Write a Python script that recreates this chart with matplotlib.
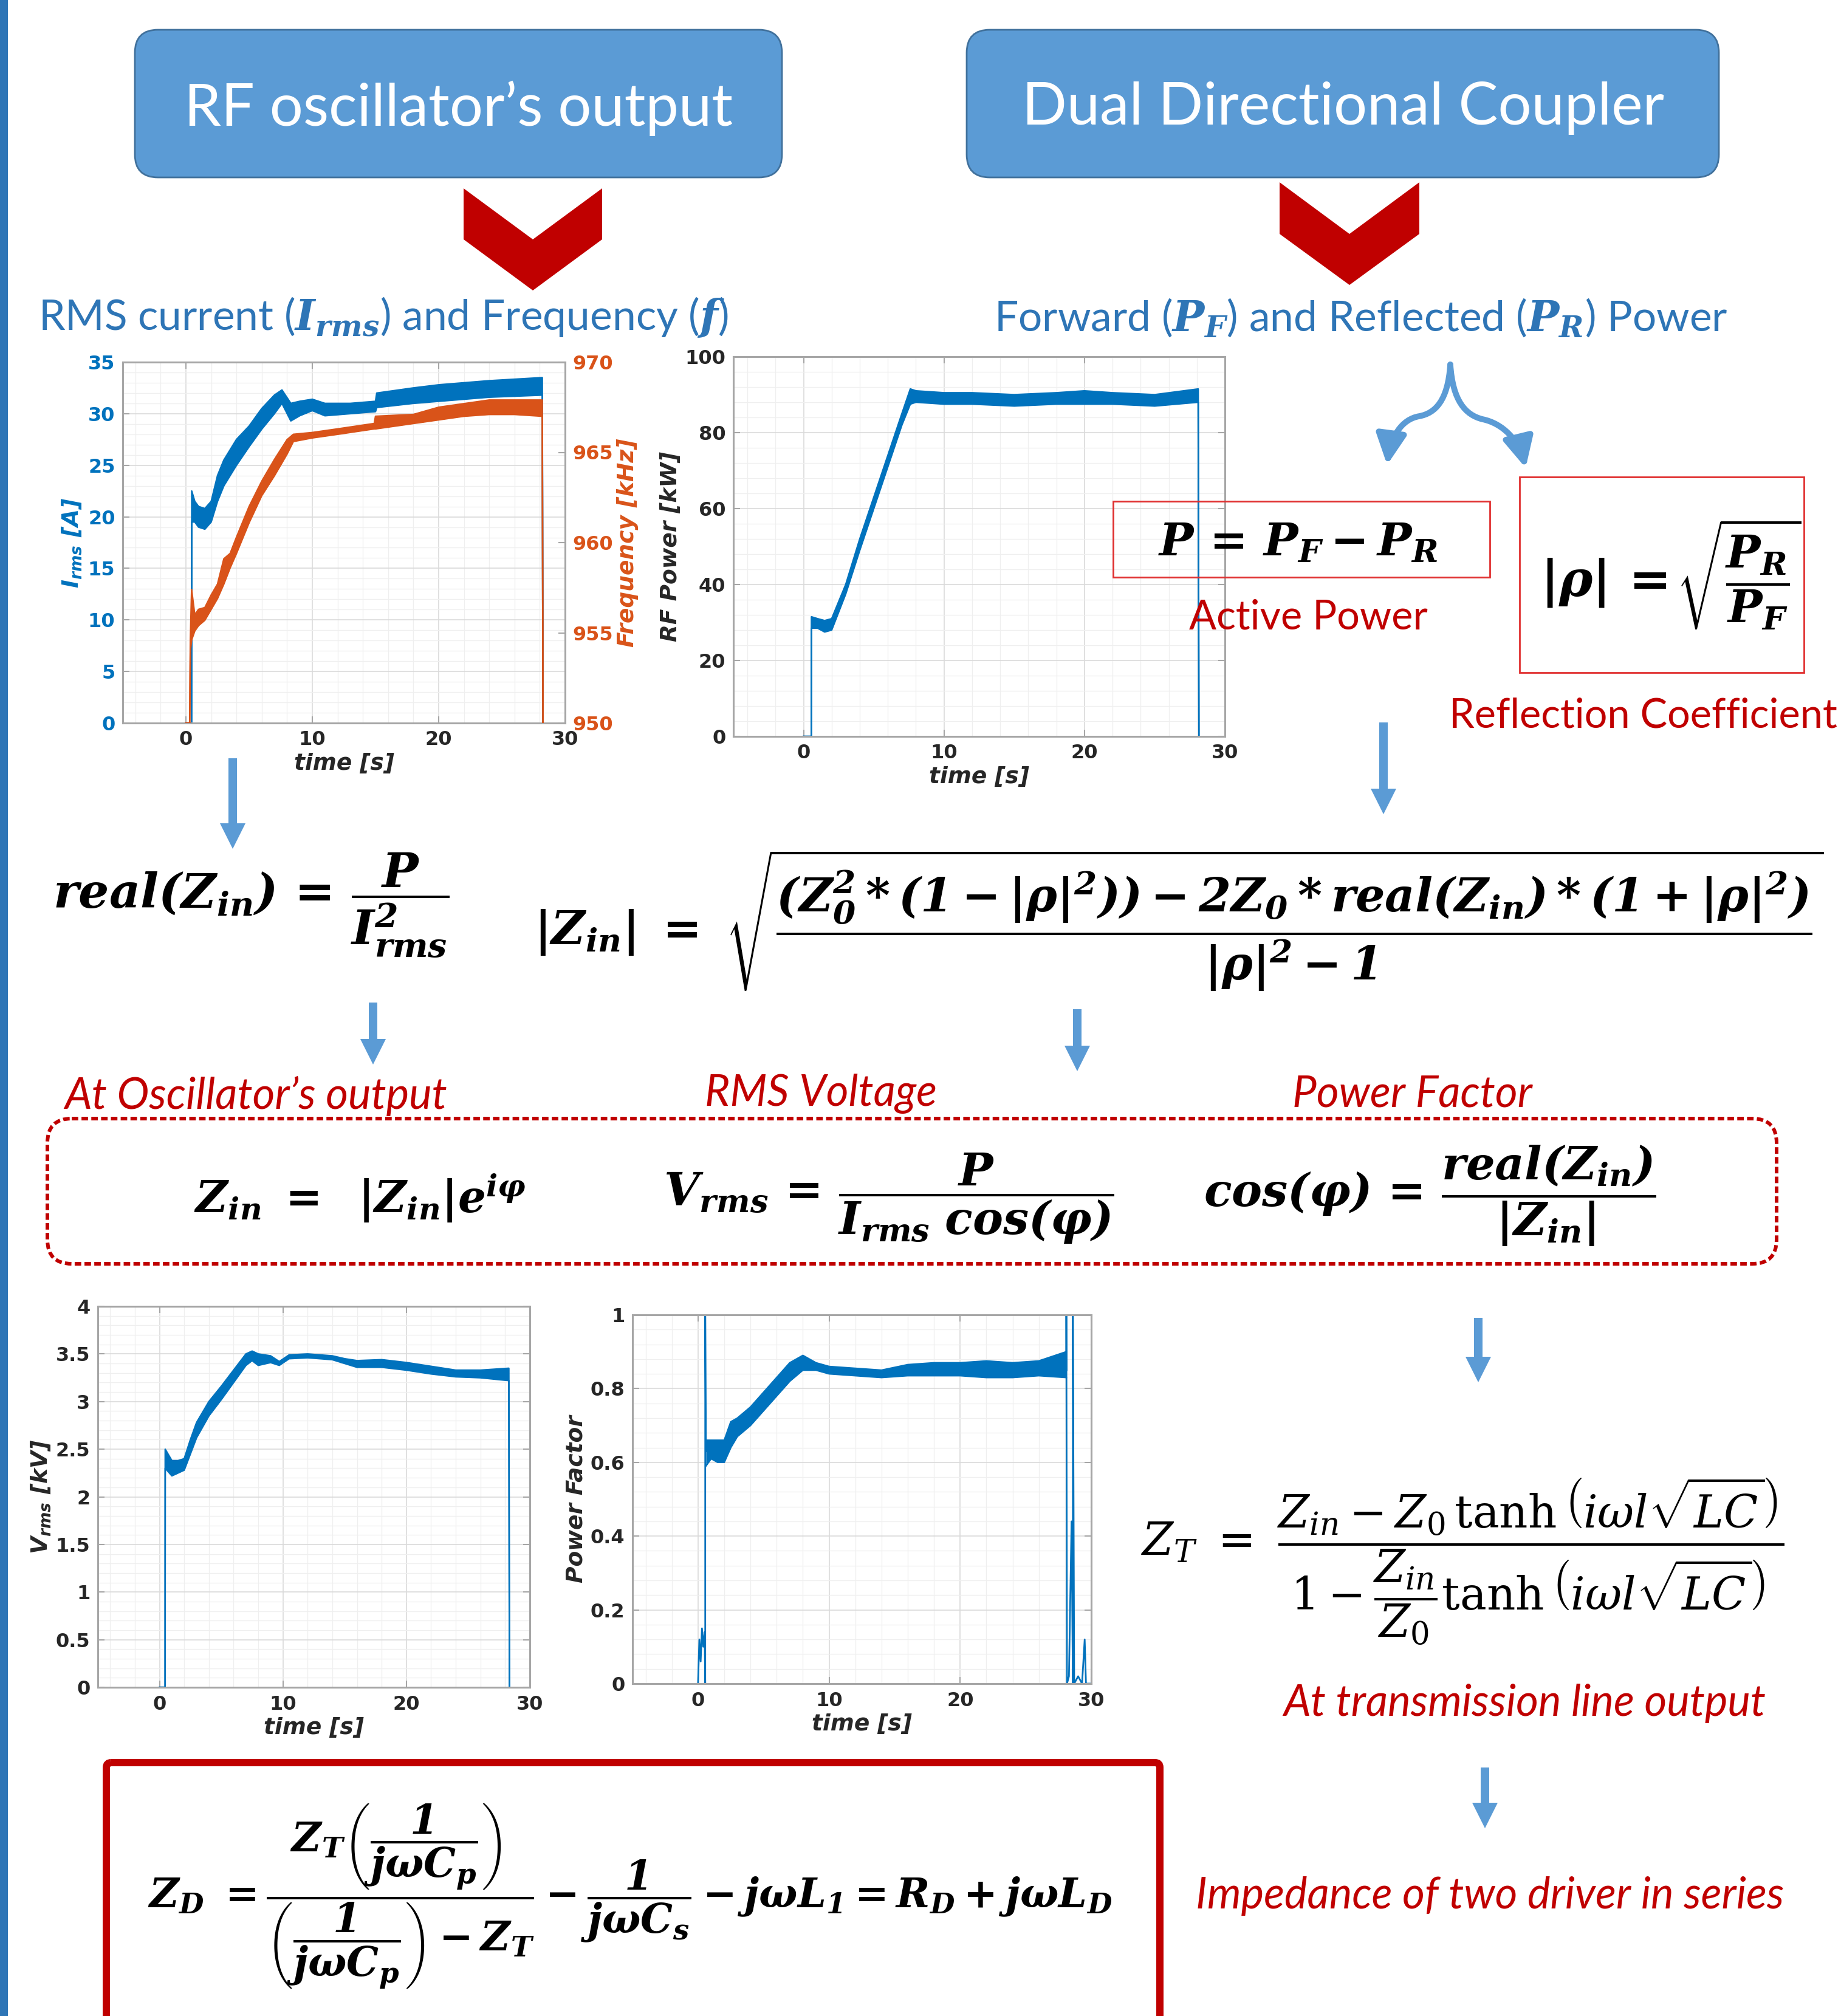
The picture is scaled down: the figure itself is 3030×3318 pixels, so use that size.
import matplotlib
matplotlib.use('Agg')
import matplotlib.pyplot as plt
from matplotlib.patches import FancyBboxPatch, Polygon, FancyArrow, FancyArrowPatch
from matplotlib.path import Path
from matplotlib.ticker import AutoMinorLocator, MultipleLocator, FormatStrFormatter

plt.rcParams['mathtext.fontset'] = 'custom'
plt.rcParams['mathtext.rm'] = 'DejaVu Serif'
plt.rcParams['mathtext.it'] = 'DejaVu Serif:italic'
plt.rcParams['mathtext.bf'] = 'DejaVu Serif:bold:italic'
plt.rcParams['mathtext.sf'] = 'DejaVu Sans:bold:italic'

W, H = 3030, 3318

MATLAB_BLUE = '#0072BD'
MATLAB_ORANGE = '#D95319'
BOX_BLUE = '#5B9BD5'
BOX_EDGE = '#41719C'
TEXT_BLUE = '#2E75B6'
ARROW_BLUE = '#5B9BD5'
RED = '#C00000'
AX_GRAY = '#A6A6A6'
DARK = '#262626'
LABEL_FONT = 'Lato'

# ---- series (band = lower / upper envelope) ----
t_irms = [0.0, 0.45, 0.46, 0.7, 1.0, 1.5, 2.0, 2.5, 3.0, 4.0, 5.0, 6.0, 7.0, 7.6,
          8.3, 9.0, 10.0, 11.0, 13.0, 15.0, 15.1, 18.0, 20.0, 24.0, 28.2, 28.25]
irms_lo = [0, 0, 19.5, 19.5, 19.0, 18.8, 19.5, 21.5, 23.0, 25.0, 26.8, 28.5, 30.0, 31.0,
           29.3, 29.8, 30.3, 29.8, 30.0, 30.2, 30.6, 31.0, 31.2, 31.6, 31.8, 0]
irms_hi = [0, 0, 22.5, 21.5, 21.0, 20.8, 21.5, 24.0, 25.5, 27.5, 28.8, 30.5, 31.8, 32.3,
           31.0, 31.2, 31.4, 31.0, 31.0, 31.2, 32.0, 32.5, 32.8, 33.2, 33.5, 0]

t_freq = [0.0, 0.3, 0.35, 0.45, 0.7, 1.0, 1.5, 2.0, 2.5, 3.0, 3.5, 4.0, 5.0, 6.0, 7.0,
          8.0, 8.5, 10.0, 12.0, 14.9, 15.0, 18.0, 20.0, 22.0, 24.0, 26.0, 28.2, 28.25]
freq_lo = [950.0, 950.0, 954.0, 954.6, 955.1, 955.4, 955.7, 956.3, 956.9, 957.7, 958.6,
           959.4, 961.1, 962.6, 963.7, 964.9, 965.6, 965.8, 966.0, 966.3, 966.3, 966.6,
           966.8, 967.0, 967.1, 967.1, 967.0, 950.0]
freq_hi = [950.0, 950.0, 954.6, 957.4, 956.0, 956.3, 956.4, 957.1, 957.7, 959.1, 959.4,
           960.3, 962.0, 963.4, 964.6, 965.7, 966.0, 966.1, 966.3, 966.6, 967.0, 967.1,
           967.5, 967.7, 967.9, 967.9, 967.9, 950.0]

t_pwr = [0.0, 0.55, 0.56, 1.0, 1.5, 2.0, 3.0, 4.0, 5.0, 6.0, 7.0, 7.6, 8.0, 10.0,
         12.0, 15.0, 18.0, 20.0, 22.0, 25.0, 28.1, 28.15]
pwr_lo = [0, 0, 28.5, 28.5, 27.5, 28.0, 37.5, 49.0, 60.0, 71.0, 82.0, 87.5, 88.0, 87.5,
          87.5, 87.0, 87.5, 87.5, 87.5, 87.0, 88.0, 0]
pwr_hi = [0, 0, 31.5, 31.0, 30.5, 31.0, 40.0, 52.0, 63.0, 74.0, 85.0, 91.5, 91.0, 90.5,
          90.5, 90.0, 90.5, 91.0, 90.5, 90.0, 91.5, 0]

t_vrms = [0.0, 0.45, 0.46, 1.0, 1.5, 2.0, 2.5, 3.0, 4.0, 5.0, 6.0, 7.0, 7.5, 8.0, 9.0,
          9.7, 10.5, 12.0, 14.0, 15.0, 16.0, 18.0, 20.0, 22.0, 24.0, 26.0, 28.3, 28.35]
vrms_lo = [0, 0, 2.30, 2.22, 2.25, 2.28, 2.45, 2.62, 2.85, 3.02, 3.20, 3.38, 3.43, 3.38,
           3.41, 3.38, 3.45, 3.46, 3.44, 3.40, 3.36, 3.36, 3.33, 3.29, 3.26, 3.25, 3.22, 0]
vrms_hi = [0, 0, 2.50, 2.38, 2.38, 2.40, 2.60, 2.78, 3.00, 3.16, 3.33, 3.50, 3.53, 3.50,
           3.48, 3.42, 3.49, 3.50, 3.48, 3.45, 3.43, 3.44, 3.41, 3.37, 3.33, 3.33, 3.35, 0]

t_pf = [0.6, 1.0, 1.5, 2.0, 2.5, 3.0, 4.0, 5.0, 6.0, 7.0, 8.0, 9.0, 10.0, 12.0, 14.0,
        16.0, 18.0, 20.0, 22.0, 24.0, 26.0, 28.1]
pf_lo = [0.59, 0.61, 0.60, 0.60, 0.64, 0.67, 0.70, 0.74, 0.78, 0.82, 0.85, 0.85, 0.84,
         0.835, 0.83, 0.835, 0.835, 0.835, 0.83, 0.83, 0.835, 0.83]
pf_hi = [0.66, 0.66, 0.66, 0.66, 0.71, 0.72, 0.75, 0.79, 0.83, 0.87, 0.89, 0.87, 0.86,
         0.855, 0.85, 0.865, 0.87, 0.87, 0.875, 0.87, 0.875, 0.90]
t_pf_start = [0.0, 0.1, 0.2, 0.3, 0.4, 0.5, 0.55, 0.55, 0.6]
pf_start = [0.0, 0.12, 0.06, 0.15, 0.10, 0.14, 0.0, 1.0, 0.63]
t_pf_end = [28.1, 28.1, 28.15, 28.3, 28.5, 28.6, 28.6, 28.7, 29.0, 29.3, 29.5, 29.6, 29.9]
pf_end = [0.85, 1.0, 0.0, 0.02, 0.44, 0.0, 1.0, 0.0, 0.02, 0.0, 0.12, 0.0, 0.0]

# ---- texts ----
BOX_TITLES = ['RF oscillator\u2019s output', 'Dual Directional Coupler']
SUB_IRMS = r'RMS current ($\mathbf{I_{rms}}$) and Frequency ($\mathbf{f}$)'
SUB_PWR = r'Forward ($\mathbf{P_F}$) and Reflected ($\mathbf{P_R}$) Power'

EQ_REAL = r'$\mathbf{real(Z_{in})\,=\,\dfrac{P}{I_{rms}^{2}}}$'
EQ_ZABS = (r'$\mathbf{|Z_{in}|\ =\ \sqrt{\dfrac{(Z_0^2*(1-|\rho|^2))-2Z_0*'
           r'real(Z_{in})*(1+|\rho|^2)}{|\rho|^2-1}}}$')
EQ_P = r'$\mathbf{P\,=\,P_F-P_R}$'
EQ_RHO_LHS = r'$\mathbf{|\rho|\,=}$'
EQ_RHO_RHS = r'$\mathbf{\sqrt{\dfrac{P_R}{P_F}}}$'
EQ_ZIN = r'$\mathbf{Z_{in}\ =\ \ |Z_{in}|e^{i\varphi}}$'
EQ_VRMS = r'$\mathbf{V_{rms}\,=\,\dfrac{P}{I_{rms}\ cos(\varphi)}}$'
EQ_COS = r'$\mathbf{cos(\varphi)\,=\,\dfrac{real(Z_{in})}{|Z_{in}|}}$'
EQ_ZT = (r'$Z_T\ =\ \dfrac{Z_{in}-Z_0\,\tanh\left(i\omega l\sqrt{LC}\right)}'
         r'{1-\dfrac{Z_{in}}{Z_0}\tanh\left(i\omega l\sqrt{LC}\right)}$')
EQ_ZD = (r'$\mathbf{Z_D\ =\dfrac{Z_T\left(\dfrac{1}{j\omega C_p}\right)}'
         r'{\left(\dfrac{1}{j\omega C_p}\right)-Z_T}-\dfrac{1}{j\omega C_s}'
         r'-j\omega L_1=R_D+j\omega L_D}$')


def px_axes(fig, x0, y0, x1, y1):
    return fig.add_axes([x0 / W, 1 - y1 / H, (x1 - x0) / W, (y1 - y0) / H])


def bold_ticks(ax):
    for lab in ax.get_xticklabels() + ax.get_yticklabels():
        lab.set_fontweight('bold')


def style_plot(ax, ylim, ystep, fmt=None):
    ax.set_xlim(-5, 30)
    ax.set_ylim(*ylim)
    ax.xaxis.set_major_locator(MultipleLocator(10))
    ax.yaxis.set_major_locator(MultipleLocator(ystep))
    ax.xaxis.set_minor_locator(AutoMinorLocator(5))
    ax.yaxis.set_minor_locator(AutoMinorLocator(5))
    if fmt:
        ax.yaxis.set_major_formatter(FormatStrFormatter(fmt))
    ax.grid(which='major', color='#DADADA', lw=1.2)
    ax.grid(which='minor', color='#EFEFEF', lw=0.9)
    ax.set_axisbelow(True)
    for s in ax.spines.values():
        s.set_color(AX_GRAY)
        s.set_linewidth(2.2)
    ax.tick_params(which='both', direction='in', top=True, right=True, color=AX_GRAY,
                   labelcolor=DARK)
    ax.tick_params(which='major', length=8, width=1.5, labelsize=23, pad=9)
    ax.tick_params(which='minor', length=0)
    ax.set_xlabel('time [s]', fontsize=27, fontstyle='italic', fontweight='bold',
                  color=DARK, labelpad=4)
    bold_ticks(ax)


def band(ax, t, lo, hi, color):
    ax.fill_between(t, lo, hi, color=color, lw=0)
    ax.plot(t, lo, color=color, lw=1.8)
    ax.plot(t, hi, color=color, lw=1.8)


fig = plt.figure(figsize=(W / 100, H / 100), dpi=100)
fig.patch.set_facecolor('white')

# ---- plot 1: I_rms and frequency ----
ax1 = px_axes(fig, 202, 596, 930, 1190)
style_plot(ax1, (0, 35), 5)
ax1.tick_params(axis='y', right=False, labelcolor=MATLAB_BLUE)
band(ax1, t_irms, irms_lo, irms_hi, MATLAB_BLUE)
ax1.set_ylabel(r'$\mathsf{I_{rms}}$ [A]', fontsize=27, fontstyle='italic', fontweight='bold',
               color=MATLAB_BLUE, labelpad=6)
ax1r = ax1.twinx()
ax1r.set_ylim(950, 970)
ax1r.yaxis.set_major_locator(MultipleLocator(5))
ax1r.tick_params(axis='y', direction='in', length=8, width=1.5, color=AX_GRAY,
                 labelsize=23, labelcolor=MATLAB_ORANGE, pad=9)
bold_ticks(ax1r)
for s in ax1r.spines.values():
    s.set_visible(False)
band(ax1r, t_freq, freq_lo, freq_hi, MATLAB_ORANGE)
ax1r.set_ylabel('Frequency [kHz]', fontsize=27, fontstyle='italic', fontweight='bold',
                color=MATLAB_ORANGE, labelpad=4)

# ---- plot 2: RF power ----
ax2 = px_axes(fig, 1207, 587, 2016, 1212)
style_plot(ax2, (0, 100), 20)
band(ax2, t_pwr, pwr_lo, pwr_hi, MATLAB_BLUE)
ax2.set_ylabel('RF Power [kW]', fontsize=27, fontstyle='italic', fontweight='bold', color=DARK)

# ---- plot 3: V_rms ----
ax3 = px_axes(fig, 161, 2150, 872, 2777)
style_plot(ax3, (0, 4), 0.5, '%g')
band(ax3, t_vrms, vrms_lo, vrms_hi, MATLAB_BLUE)
ax3.set_ylabel(r'$\mathsf{V_{rms}}$ [kV]', fontsize=27, fontstyle='italic', fontweight='bold',
               color=DARK)

# ---- plot 4: power factor ----
ax4 = px_axes(fig, 1041, 2164, 1796, 2771)
style_plot(ax4, (0, 1), 0.2, '%g')
band(ax4, t_pf, pf_lo, pf_hi, MATLAB_BLUE)
ax4.plot(t_pf_start, pf_start, color=MATLAB_BLUE, lw=2)
ax4.plot(t_pf_end, pf_end, color=MATLAB_BLUE, lw=2)
ax4.set_ylabel('Power Factor', fontsize=27, fontstyle='italic', fontweight='bold', color=DARK)

# ---- overlay in pixel coordinates ----
ov = fig.add_axes([0, 0, 1, 1])
ov.set_xlim(0, W)
ov.set_ylim(H, 0)
ov.axis('off')
ov.set_zorder(5)

ov.add_patch(plt.Rectangle((0, 0), 13, H, color='#2E75B6', lw=0))

# title boxes
for (x0, y0, x1, y1), title in zip([(222, 49, 1287, 292), (1591, 49, 2829, 292)], BOX_TITLES):
    ov.add_patch(FancyBboxPatch((x0, y0), x1 - x0, y1 - y0,
                                boxstyle='round,pad=0,rounding_size=38',
                                fc=BOX_BLUE, ec=BOX_EDGE, lw=2))
    ov.text((x0 + x1) / 2, (y0 + y1) / 2 + 8, title, color='white', fontsize=70,
            family=LABEL_FONT, ha='center', va='center')

# red chevrons
for xl, xr, ytop, ymid, ytip in [(763, 991, 310, 394, 478), (2106, 2336, 300, 385, 469)]:
    xc = (xl + xr) / 2
    ov.add_patch(Polygon([(xl, ytop), (xc, ymid), (xr, ytop), (xr, ymid),
                          (xc, ytip), (xl, ymid)], closed=True, fc=RED, ec='none'))

# blue subtitles
ov.text(63, 543, SUB_IRMS, color=TEXT_BLUE, fontsize=50, family=LABEL_FONT,
        ha='left', va='baseline')
ov.text(1636, 545, SUB_PWR, color=TEXT_BLUE, fontsize=50, family=LABEL_FONT,
        ha='left', va='baseline')

# straight arrows (x, y_start, y_end)
for x, ya, yb in [(383, 1248, 1397), (2277, 1189, 1340), (614, 1650, 1752),
                  (1773, 1661, 1763), (2433, 2169, 2275), (2444, 2909, 3009)]:
    ov.add_patch(FancyArrow(x, ya, 0, yb - ya, width=14, head_width=42, head_length=42,
                            length_includes_head=True, color=ARROW_BLUE, lw=0))

# split curved arrow
for verts in [[(2387, 600), (2383, 660), (2362, 680), (2336, 685),
               (2306, 690), (2289, 720), (2283, 765)],
              [(2387, 600), (2391, 660), (2412, 683), (2440, 690),
               (2474, 697), (2500, 725), (2511, 770)]]:
    codes = [Path.MOVETO] + [Path.CURVE4] * 6
    ov.add_patch(FancyArrowPatch(path=Path(verts, codes),
                                 arrowstyle='-|>,head_length=1.5,head_width=0.75',
                                 mutation_scale=20, lw=7, color=ARROW_BLUE))

# P = PF - PR box and |rho| box
ov.add_patch(plt.Rectangle((1832, 825), 620, 125, fill=False, ec='#E03030', lw=2))
ov.text(1906, 914, EQ_P, fontsize=54, ha='left', va='baseline')
ov.text(1957, 1036, 'Active Power', color=RED, fontsize=48, family=LABEL_FONT,
        ha='left', va='baseline')
ov.add_patch(plt.Rectangle((2501, 785), 468, 322, fill=False, ec='#E03030', lw=2))
ov.text(2535, 980, EQ_RHO_LHS, fontsize=60, ha='left', va='baseline')
ov.text(2758, 946, EQ_RHO_RHS, fontsize=54, ha='left', va='center')
ov.text(2385, 1198, 'Reflection Coefficient', color=RED, fontsize=48, family=LABEL_FONT,
        ha='left', va='baseline')

# impedance equations
ov.text(87, 1496, EQ_REAL, fontsize=57, ha='left', va='baseline')
ov.text(879, 1555, EQ_ZABS, fontsize=55, ha='left', va='baseline')

# red italic labels
for x, y, s in [(106, 1825, 'At Oscillator\u2019s output'), (1160, 1820, 'RMS Voltage'),
                (2127, 1821, 'Power Factor'), (2112, 2824, 'At transmission line output'),
                (1968, 3141, 'Impedance of two driver in series')]:
    ov.text(x, y, s, color=RED, fontsize=51, family=LABEL_FONT, fontstyle='italic',
            ha='left', va='baseline')

# dashed box with Z_in, V_rms, cos(phi)
ov.add_patch(FancyBboxPatch((78, 1841), 2846, 239, boxstyle='round,pad=0,rounding_size=40',
                            fill=False, ec=RED, lw=4.3, linestyle=(0, (1.8, 0.9))))
ov.text(319, 1996, EQ_ZIN, fontsize=52, ha='left', va='baseline')
ov.text(1092, 1984, EQ_VRMS, fontsize=54, ha='left', va='baseline')
ov.text(1981, 1986, EQ_COS, fontsize=54, ha='left', va='baseline')

# transmission line
ov.text(1878, 2560, EQ_ZT, fontsize=53, ha='left', va='baseline')

# driver impedance box
ov.add_patch(FancyBboxPatch((175, 2901), 1734, 500, boxstyle='round,pad=0,rounding_size=8',
                            fill=False, ec=RED, lw=8.6))
ov.text(243, 3140, EQ_ZD, fontsize=48, ha='left', va='baseline')

fig.savefig('out.png', dpi=100, facecolor='white')
